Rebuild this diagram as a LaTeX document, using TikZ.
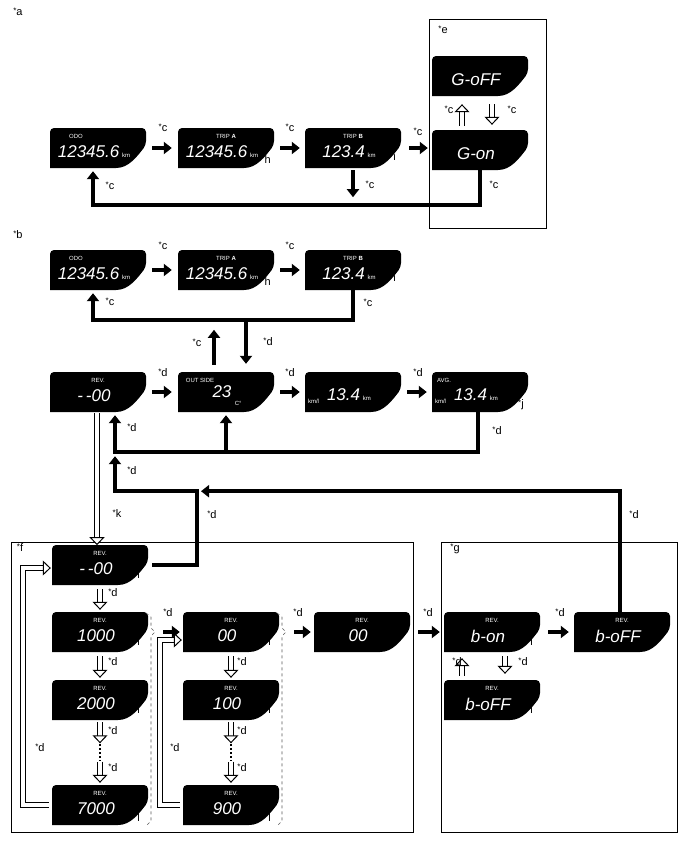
\documentclass[tikz,border=0pt]{standalone}
\usepackage{fontspec}
\setmainfont{Liberation Sans}
\setsansfont{Liberation Sans}
\usepackage{tikz}
\usetikzlibrary{arrows.meta}
\newcommand{\dispbox}[6]{% name, top left: x,y, top label, its x offset, value
  \fill[rounded corners=4pt] (#2,#3+40) -- (#2,#3) -- (#2+96,#3) -- (#2+96,#3+17)
    [sharp corners] .. controls (#2+86,#3+30) and (#2+78,#3+40) .. (#2+66,#3+40) -- cycle;
  \node[inner sep=0,minimum width=96pt,minimum height=40pt] (#1) at (#2+48,#3+20) {};
  \node[toptxt] (#1-top) at (#2+#5,#3+8) {#4};
  \node[valtxt] (#1-val) at (#2+44,#3+24) {#6};
}
\newcommand{\km}{\,{\fontsize{6}{6}\selectfont\upshape km}}
\begin{document}
\begin{tikzpicture}[x=1pt,y=-1pt,
  toptxt/.style={text=white,font=\fontsize{6}{7}\selectfont\sffamily,inner sep=0},
  valtxt/.style={text=white,font=\fontsize{17}{18}\selectfont\sffamily\itshape,inner sep=0},
  blk/.style={line width=4pt,-{Triangle[length=8pt,width=12pt]}},
  ret/.style={line width=4pt,-{Triangle[length=8pt,width=12pt]}},
  hol/.style={double=white,double distance=4pt,line width=1pt,
    -{Triangle[length=8pt,width=15pt,fill=white,line width=1pt]}},
  frm/.style={line width=0.8pt},
  brc/.style={dashed,line width=0.6pt,gray!70!black},
  lbl/.style={font=\sffamily\fontsize{11}{12}\selectfont,inner sep=0}]
\useasboundingbox (0,0) rectangle (688,852);

% frames
\draw[frm] (429,19) rectangle (546,228);
\draw[frm] (11,542) rectangle (413,832);
\draw[frm] (441,542) rectangle (677,832);

% upper row
\dispbox{odoA}{50}{128}{ODO}{26}{12345.6\km}
\dispbox{tripaA}{178}{128}{TRIP \textbf{A}}{48}{12345.6\km}
\dispbox{tripbA}{305}{128}{TRIP \textbf{B}}{48}{123.4\km}
\dispbox{goff}{432}{56}{}{48}{G-oFF}
\dispbox{gon}{432}{130}{}{48}{G-on}
\draw[blk] ([xshift=6pt]odoA.east) -- ([xshift=-6pt]tripaA.west);
\draw[blk] ([xshift=6pt]tripaA.east) -- ([xshift=-5pt]tripbA.west);
\draw[blk] ([xshift=8pt]tripbA.east) -- ([xshift=-4pt,yshift=2pt]gon.west);
\draw[hol] ([xshift=-18pt,yshift=4pt]gon.north) -- ([xshift=-18pt,yshift=-8pt]goff.south);
\draw[hol] ([xshift=12pt,yshift=-8pt]goff.south) -- ([xshift=12pt,yshift=5pt]gon.north);
\draw[ret] (gon.south) -- ++(0,35) -| ([xshift=-5pt,yshift=-3pt]odoA.south);
\draw[blk] ([yshift=-2pt]tripbA.south) -- ++(0,27);

% second row
\dispbox{odoB}{50}{250}{ODO}{26}{12345.6\km}
\dispbox{tripaB}{178}{250}{TRIP \textbf{A}}{48}{12345.6\km}
\dispbox{tripbB}{305}{250}{TRIP \textbf{B}}{48}{123.4\km}
\draw[blk] ([xshift=6pt]odoB.east) -- ([xshift=-6pt]tripaB.west);
\draw[blk] ([xshift=6pt]tripaB.east) -- ([xshift=-5pt]tripbB.west);
\draw[ret] (tripbB.south) -- ++(0,30) -| ([xshift=-5pt,yshift=-3pt]odoB.south);

% REV row
\dispbox{rev}{50}{372}{REV.}{48}{-\,-00}
\dispbox{outs}{178}{372}{OUT SIDE}{22}{23\rlap{\raisebox{-8pt}{\fontsize{6}{6}\selectfont\upshape\ \ C\textdegree}}}
\dispbox{inst}{305}{372}{}{48}{\llap{\raisebox{-3pt}{\fontsize{6}{6}\selectfont\upshape km/l}\hspace{8pt}}13.4\km}
\dispbox{avg}{432}{372}{AVG.}{12}{\llap{\raisebox{-3pt}{\fontsize{6}{6}\selectfont\upshape km/l}\hspace{8pt}}13.4\km}
\draw[blk] ([xshift=-12pt,yshift=7pt]outs.north) -- ++(0,-35);
\draw[blk] ([xshift=20pt,yshift=50pt]outs.north) -- ++(0,42);
\draw[blk] ([xshift=6pt]rev.east) -- ([xshift=-6pt]outs.west);
\draw[blk] ([xshift=6pt]outs.east) -- ([xshift=-5pt]inst.west);
\draw[blk] ([xshift=6pt]inst.east) -- ([xshift=-5pt]avg.west);
\coordinate (lowbar) at ([xshift=17pt,yshift=-40pt]rev.south);
\draw[ret] ([xshift=-2pt]avg.south) -- ++(0,40) -| ([xshift=17pt,yshift=-3pt]rev.south);
\draw[blk] ([yshift=-40pt]outs.south) -- ([yshift=-3pt]outs.south);
\draw[hol] ([xshift=-1pt,yshift=-1pt]rev.south) -- ++(0,132);

% box f
\dispbox{r00}{52}{545}{REV.}{48}{-\,-00}
\dispbox{r1000}{52}{612}{REV.}{48}{1000}
\dispbox{r2000}{52}{680}{REV.}{48}{2000}
\dispbox{r7000}{52}{785}{REV.}{48}{7000}
\dispbox{c00}{183}{612}{REV.}{48}{00}
\dispbox{c100}{183}{680}{REV.}{48}{100}
\dispbox{c900}{183}{785}{REV.}{48}{900}
\dispbox{d00}{314}{612}{REV.}{48}{00}
\draw[ret] ([xshift=4pt]r00.east) -| ([xshift=82pt,yshift=-39pt]lowbar) -| ([yshift=-4pt]lowbar);
\draw[hol] ([yshift=-4pt]r00.south) -- ([yshift=2pt]r1000.north);
\draw[hol] ([yshift=-4pt]r1000.south) -- ([yshift=2pt]r2000.north);
\path (r2000.south) -- (r7000.north) node[midway,inner sep=0,minimum height=16pt] (dotsA) {};
\draw[line width=2pt,dash pattern=on 2pt off 2pt] (dotsA.north) -- (dotsA.south);
\draw[hol] ([yshift=-2pt]r2000.south) -- ([yshift=1pt]dotsA.north);
\draw[hol] ([yshift=-1pt]dotsA.south) -- ([yshift=2pt]r7000.north);
\draw[hol] ([xshift=-3pt]r7000.west) -- ++(-26,0) |- ([xshift=-1pt,yshift=-3pt]r00.west);
\draw[hol] ([yshift=-4pt]c00.south) -- ([yshift=2pt]c100.north);
\path (c100.south) -- (c900.north) node[midway,inner sep=0,minimum height=16pt] (dotsB) {};
\draw[line width=2pt,dash pattern=on 2pt off 2pt] (dotsB.north) -- (dotsB.south);
\draw[hol] ([yshift=-2pt]c100.south) -- ([yshift=1pt]dotsB.north);
\draw[hol] ([yshift=-1pt]dotsB.south) -- ([yshift=2pt]c900.north);
\draw[hol] ([xshift=-3pt]c900.west) -- ++(-20,0) |- ([xshift=-1pt,yshift=-8pt]c00.west);
\draw[brc] (146,613) -- (151,617) -- (151,628) -- (155,632) -- (151,636) -- (151,821) -- (146,826);
\draw[brc] (277,613) -- (282,617) -- (282,628) -- (286,632) -- (282,636) -- (282,821) -- (277,826);
\draw[blk] ([xshift=15pt]r1000.east) -- ([xshift=-3pt]c00.west);
\draw[blk] ([xshift=15pt]c00.east) -- ([xshift=-3pt]d00.west);

% box g
\dispbox{bon}{444}{612}{REV.}{48}{b-on}
\dispbox{boffR}{574}{612}{REV.}{48}{b-oFF}
\dispbox{boffL}{444}{680}{REV.}{48}{b-oFF}
\draw[blk] ([xshift=8pt]d00.east) -- ([xshift=-4pt]bon.west);
\draw[blk] ([xshift=8pt]bon.east) -- ([xshift=-5pt]boffR.west);
\draw[hol] ([xshift=-30pt,yshift=4pt]boffL.north) -- ([xshift=-30pt,yshift=-6pt]bon.south);
\draw[hol] ([xshift=13pt,yshift=-4pt]bon.south) -- ([xshift=13pt,yshift=6pt]boffL.north);
\draw[ret] ([xshift=-2pt]boffR.north) |- ([xshift=86pt,yshift=-39pt]lowbar);

% labels
\foreach \x/\y/\t [count=\i] in {18/12/a,18/235/b,443/30/e,20/548/f,455/549/g,
  163/128/c,290/128/c,418/132/c,449/110/c,512/110/c,110/186/c,370/185/c,494/185/c,
  266/160/h,393/157/i,163/246/c,290/246/c,110/302/c,368/303/c,266/282/h,393/278/i,
  197/343/c,268/342/d,163/373/d,290/373/d,418/373/d,521/405/j,497/431/d,132/428/d,
  132/471/d,212/515/d,634/515/d,117/514/k,
  113/593/d,113/662/d,113/731/d,113/768/d,40/748/d,168/613/d,242/662/d,242/731/d,
  242/768/d,175/748/d,298/613/d,
  137/575/l,137/642/l,137/710/l,137/818/l,268/642/l,268/710/l,268/818/l,
  428/613/d,560/613/d,457/662/d,523/662/d,530/642/l,530/710/l}
  \node[lbl] (lbl\i) at (\x,\y) {\raisebox{2pt}{\footnotesize*}\t};
\end{tikzpicture}
\end{document}
